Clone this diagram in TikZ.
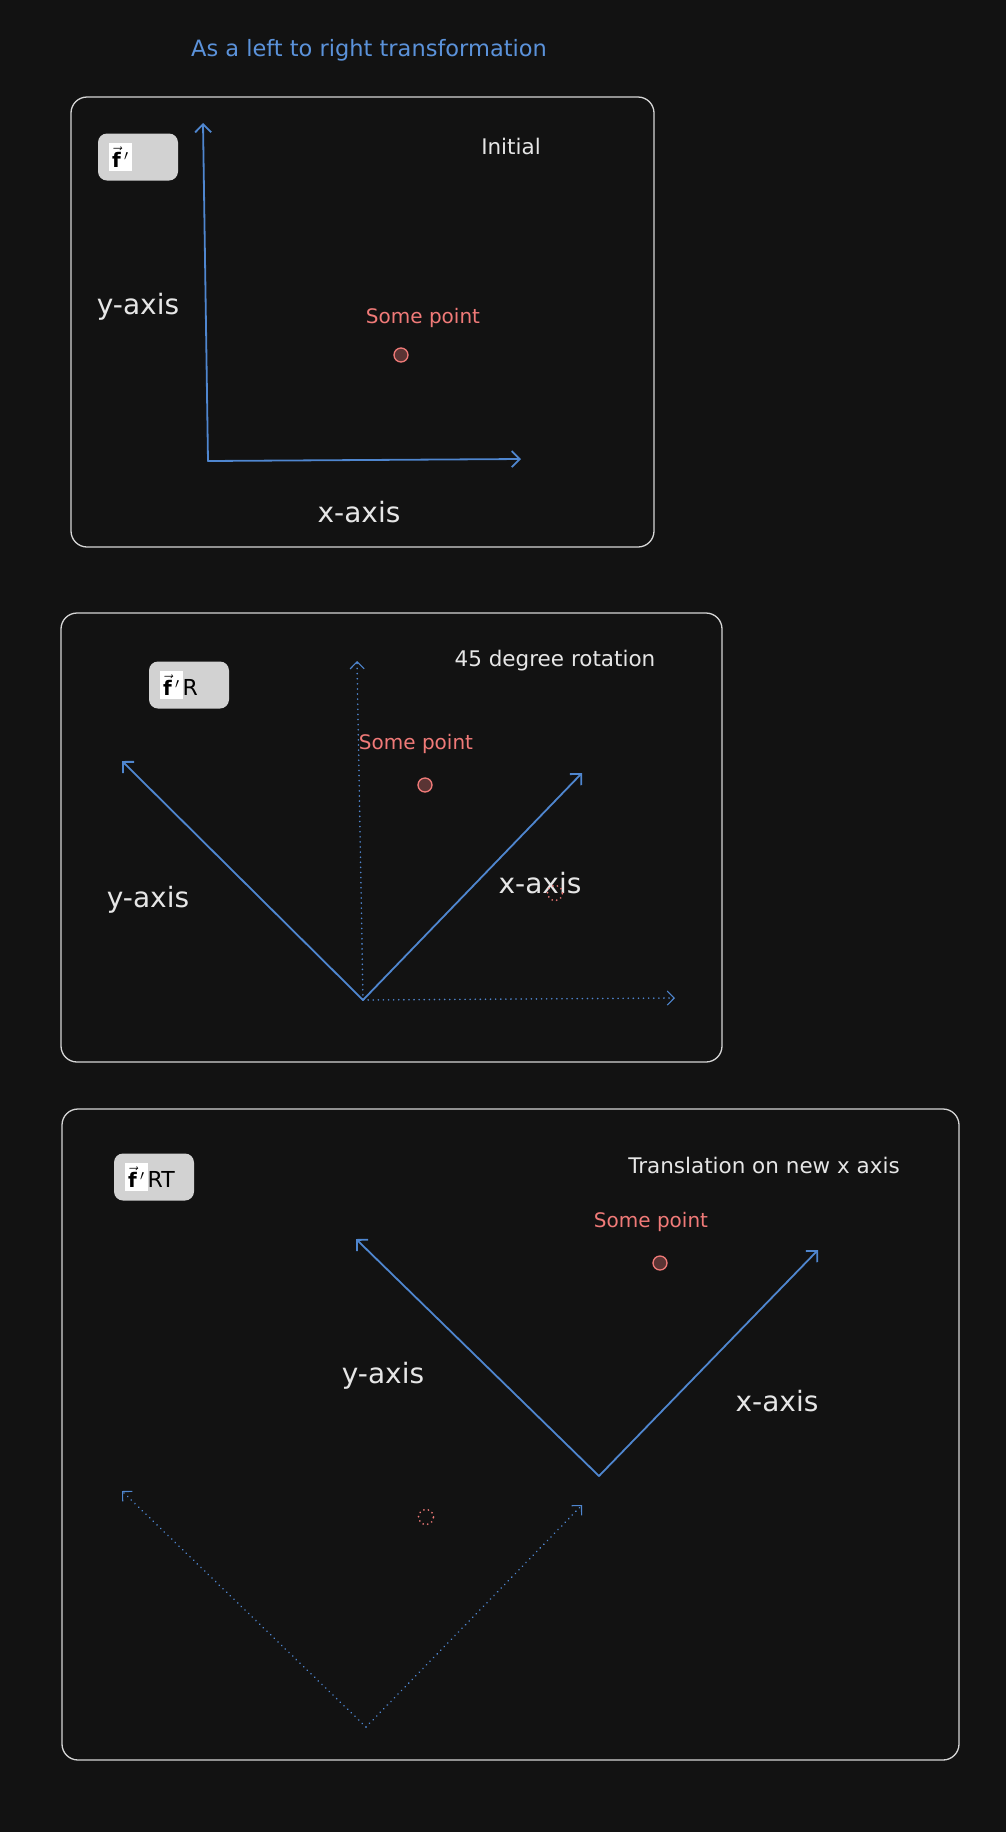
\documentclass[tikz,border=0pt]{standalone}
\usepackage{fontspec}
\setmainfont{DejaVu Sans}
\usetikzlibrary{arrows.meta}
\definecolor{bg}{HTML}{121212}
\definecolor{frame}{HTML}{D6D6D6}
\definecolor{axblue}{HTML}{4F86CF}
\definecolor{ttlblue}{HTML}{5B92DA}
\definecolor{ptred}{HTML}{F07A78}
\definecolor{ptfill}{HTML}{5A3434}
\definecolor{txt}{HTML}{E6E6E6}
\definecolor{badge}{HTML}{D2D2D2}
\tikzset{
  panel/.style={draw=frame, line width=1.3pt, rounded corners=16pt},
  axis/.style={draw=axblue, line width=1.8pt, line cap=round, -{Straight Barb[length=8pt,width=16pt,line width=1.8pt]}},
  ghostaxis/.style={draw=axblue, line width=1.7pt, dash pattern=on 0.1pt off 5pt, line cap=round, -{Straight Barb[length=7pt,width=14pt,line width=1.1pt]}},
  lbl/.style={text=txt, font=\fontsize{28}{30}\selectfont, inner sep=0pt},
  captxt/.style={text=txt, font=\fontsize{21.5}{24}\selectfont, inner sep=0pt},
  ptlbl/.style={text=ptred, font=\fontsize{20}{22}\selectfont, inner sep=0pt},
  pt/.style={circle, draw=ptred, fill=ptfill, line width=1.3pt, minimum size=14pt, inner sep=0pt},
  ghostpt/.style={circle, draw=ptred, line width=1.8pt, dash pattern=on 0.1pt off 4.5pt, line cap=round, minimum size=15pt, inner sep=0pt},
  badgebox/.style={fill=badge, rounded corners=9pt, minimum height=47pt, inner xsep=11pt, inner ysep=0pt,
     text width=58pt, align=left, text=black, font=\fontsize{22}{24}\selectfont},
}
\newcommand{\fvec}{{\setlength{\fboxsep}{3pt}\colorbox{white}{\fontsize{20}{22}\selectfont$\vec{\mathbf{f}}\,'$}}}
\begin{document}
\begin{tikzpicture}[x=1pt,y=-1pt]
\fill[bg] (0,0) rectangle (1006,1832);
\useasboundingbox (0,0) rectangle (1006,1832);

% title
\node[text=ttlblue, font=\fontsize{22.5}{25}\selectfont, inner sep=0pt] (title) at (369,50) {As a left to right transformation};

% ---------- panel 1 ----------
\draw[panel] (71,97) rectangle (654,547);
\node[badgebox] (b1) at (138,157) {\fvec};
\node[captxt] (cap1) at (511,146) {Initial};
\coordinate (o1) at (208,461);
\coordinate (y1) at (203,123);
\coordinate (x1) at (521,459);
\draw[axis] (o1) -- (y1);
\draw[axis] (o1) -- (x1);
\node[lbl] (ylab1) at (138,307) {y-axis};
\node[lbl] (xlab1) at (359,512) {x-axis};
\node[ptlbl] (sp1) at (423,318) {Some point};
\node[pt] (p1) at (401,355) {};

% ---------- panel 2 ----------
\draw[panel] (61,613) rectangle (722,1062);
\node[badgebox] (b2) at (189,685) {\fvec R};
\node[captxt] (cap2) at (555,661) {45 degree rotation};
\coordinate (o2) at (363,1000);
\coordinate (gy2) at (357,661);
\coordinate (gx2) at (675,998);
\coordinate (x2) at (582,773);
\coordinate (y2) at (122,761);
\draw[ghostaxis] (o2) -- (gy2);
\draw[ghostaxis] (o2) -- (gx2);
\draw[axis] (o2) -- (x2);
\draw[axis] (o2) -- (y2);
\node[ptlbl] (sp2) at (416,744) {Some point};
\node[pt] (p2) at (425,785) {};
\node[lbl] (ylab2) at (148,900) {y-axis};
\node[lbl] (xlab2) at (540,883) {x-axis};
\node[ghostpt] (gp2) at (555,893) {};

% ---------- panel 3 ----------
\draw[panel] (62,1109) rectangle (959,1760);
\node[badgebox] (b3) at (154,1177) {\fvec RT};
\node[captxt] (cap3) at (764,1165) {Translation on new x axis};
\node[ptlbl] (sp3) at (651,1222) {Some point};
\node[pt] (p3) at (660,1263) {};
\coordinate (o3) at (599,1476);
\coordinate (x3) at (818,1250);
\coordinate (y3) at (356,1239);
\draw[axis] (o3) -- (x3);
\draw[axis] (o3) -- (y3);
\node[lbl] (ylab3) at (383,1376) {y-axis};
\node[lbl] (xlab3) at (777,1401) {x-axis};
\coordinate (go3) at (366,1727);
\coordinate (gx3) at (582,1505);
\coordinate (gy3) at (122,1491);
\draw[ghostaxis] (go3) -- (gx3);
\draw[ghostaxis] (go3) -- (gy3);
\node[ghostpt] (gp3) at (426,1517) {};
\end{tikzpicture}
\end{document}
